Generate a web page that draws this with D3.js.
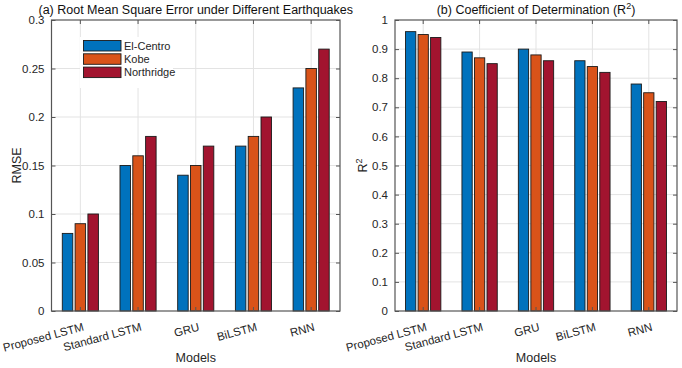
<!DOCTYPE html>
<html><head><meta charset="utf-8">
<script src="https://cdn.jsdelivr.net/npm/d3@7"></script>
<style>
body{margin:0;background:#fff;}
svg{display:block;font-family:"Liberation Sans",Arial,sans-serif;}
</style></head>
<body><svg id="c" width="682" height="368"></svg>
<script>
const models = ["Proposed LSTM","Standard LSTM","GRU","BiLSTM","RNN"];
const seriesNames = ["El-Centro","Kobe","Northridge"];
const colors = ["#0072BD","#D95319","#A2142F"];
const rmseElCentro = [0.08,0.15,0.14,0.17,0.23];
const rmseKobe = [0.09,0.16,0.15,0.18,0.25];
const rmseNorthridge = [0.10,0.18,0.17,0.20,0.27];
const r2ElCentro = [0.96,0.89,0.90,0.86,0.78];
const r2Kobe = [0.95,0.87,0.88,0.84,0.75];
const r2Northridge = [0.94,0.85,0.86,0.82,0.72];
const rmseTicks = [0,0.05,0.1,0.15,0.2,0.25,0.3];
const r2Ticks = [0,0.1,0.2,0.3,0.4,0.5,0.6,0.7,0.8,0.9,1];

const svg = d3.select("#c");
const txt = "#262626";

function panel(opt){
  const {x0,x1,y0,y1,ymax,ticks,series,title,ylabel,legend} = opt;
  const g = svg.append("g");
  const x = d3.scaleBand().domain(models).range([x0,x1]).padding(0);
  const y = d3.scaleLinear().domain([0,ymax]).range([y1,y0]);
  // grid
  g.append("g").selectAll("line.h").data(ticks.slice(1,-1)).join("line")
    .attr("x1",x0).attr("x2",x1).attr("y1",d=>y(d)).attr("y2",d=>y(d))
    .attr("stroke","#e3e3e3").attr("stroke-width",1);
  g.append("g").selectAll("line.v").data(models).join("line")
    .attr("x1",d=>x(d)+x.bandwidth()/2).attr("x2",d=>x(d)+x.bandwidth()/2)
    .attr("y1",y0).attr("y2",y1).attr("stroke","#e3e3e3").attr("stroke-width",1);
  // bars
  const step = x.bandwidth()*0.222;
  const bw = x.bandwidth()*0.182;
  series.forEach((vals,si)=>{
    g.append("g").selectAll("rect").data(models).join("rect")
      .attr("x",(d)=>x(d)+x.bandwidth()/2+(si-1)*step-bw/2)
      .attr("width",bw)
      .attr("y",(d,i)=>y(vals[i]))
      .attr("height",(d,i)=>y(0)-y(vals[i]))
      .attr("fill",colors[si]).attr("stroke","#1a1a1a").attr("stroke-width",0.9);
  });
  // box
  g.append("rect").attr("x",x0).attr("y",y0).attr("width",x1-x0).attr("height",y1-y0)
    .attr("fill","none").attr("stroke","#555").attr("stroke-width",1.2);
  // y axis
  const ya = d3.axisLeft(y).tickValues(ticks).tickFormat(d=>d3.format("~g")(d)).tickSize(-4).tickPadding(7);
  const yg = g.append("g").attr("transform",`translate(${x0},0)`).call(ya);
  yg.select(".domain").remove();
  yg.selectAll("line").attr("stroke","#555");
  yg.selectAll("text").attr("font-size","11.5px").attr("fill",txt).attr("font-family","Liberation Sans,Arial,sans-serif");
  const yr = d3.axisRight(y).tickValues(ticks).tickFormat("").tickSize(-4);
  const yrg = g.append("g").attr("transform",`translate(${x1},0)`).call(yr);
  yrg.select(".domain").remove(); yrg.selectAll("line").attr("stroke","#555");
  // x ticks
  const xb = d3.axisBottom(x).tickSize(-4).tickFormat("");
  const xbg = g.append("g").attr("transform",`translate(0,${y1})`).call(xb);
  xbg.select(".domain").remove(); xbg.selectAll("line").attr("stroke","#555");
  const xt = d3.axisTop(x).tickSize(-4).tickFormat("");
  const xtg = g.append("g").attr("transform",`translate(0,${y0})`).call(xt);
  xtg.select(".domain").remove(); xtg.selectAll("line").attr("stroke","#555");
  // x labels rotated
  g.append("g").selectAll("text").data(models).join("text")
    .attr("transform",d=>`translate(${x(d)+x.bandwidth()/2+2},${y1+11}) rotate(-15)`)
    .attr("text-anchor","end").attr("dy","0.75em")
    .attr("font-size","11.5px").attr("fill",txt).text(d=>d);
  // xlabel
  g.append("text").attr("x",(x0+x1)/2).attr("y",362).attr("text-anchor","middle")
    .attr("font-size","12.5px").attr("fill",txt).text("Models");
  // title
  const t = g.append("text").attr("x",(x0+x1)/2).attr("y",13.5).attr("text-anchor","middle")
    .attr("font-size","12.5px").attr("fill","#111");
  title(t);
  // ylabel
  const yl = g.append("text").attr("transform",`translate(${opt.ylx},${(y0+y1)/2}) rotate(-90)`)
    .attr("text-anchor","middle").attr("font-size","12.5px").attr("fill",txt);
  ylabel(yl);
  if(legend){
    const lg = g.append("g");
    lg.append("rect").attr("x",80).attr("y",37).attr("width",93).attr("height",51).attr("fill","#fff");
    seriesNames.forEach((n,i)=>{
      lg.append("rect").attr("x",83.5).attr("y",40.5+i*13.3).attr("width",37.5).attr("height",10.5)
        .attr("fill",colors[i]).attr("stroke","#1a1a1a").attr("stroke-width",0.9);
      lg.append("text").attr("x",124).attr("y",46+i*13.3).attr("dy","0.35em")
        .attr("font-size","11px").attr("fill",txt).text(n);
    });
  }
}

panel({x0:51.5,x1:340,y0:20,y1:311,ymax:0.3,ticks:rmseTicks,
  series:[rmseElCentro,rmseKobe,rmseNorthridge],
  title:t=>t.text("(a) Root Mean Square Error under Different Earthquakes"),
  ylabel:t=>t.text("RMSE"), ylx:21, legend:true});
panel({x0:395,x1:677,y0:20,y1:311,ymax:1,ticks:r2Ticks,
  series:[r2ElCentro,r2Kobe,r2Northridge],
  title:t=>{t.append("tspan").text("(b) Coefficient of Determination (R");
    t.append("tspan").attr("dy","-5").attr("font-size","9px").text("2");
    t.append("tspan").attr("dy","5").text(")");},
  ylabel:t=>{t.append("tspan").text("R"); t.append("tspan").attr("dy","-5").attr("font-size","9px").text("2");},
  ylx:367, legend:false});
</script></body></html>
